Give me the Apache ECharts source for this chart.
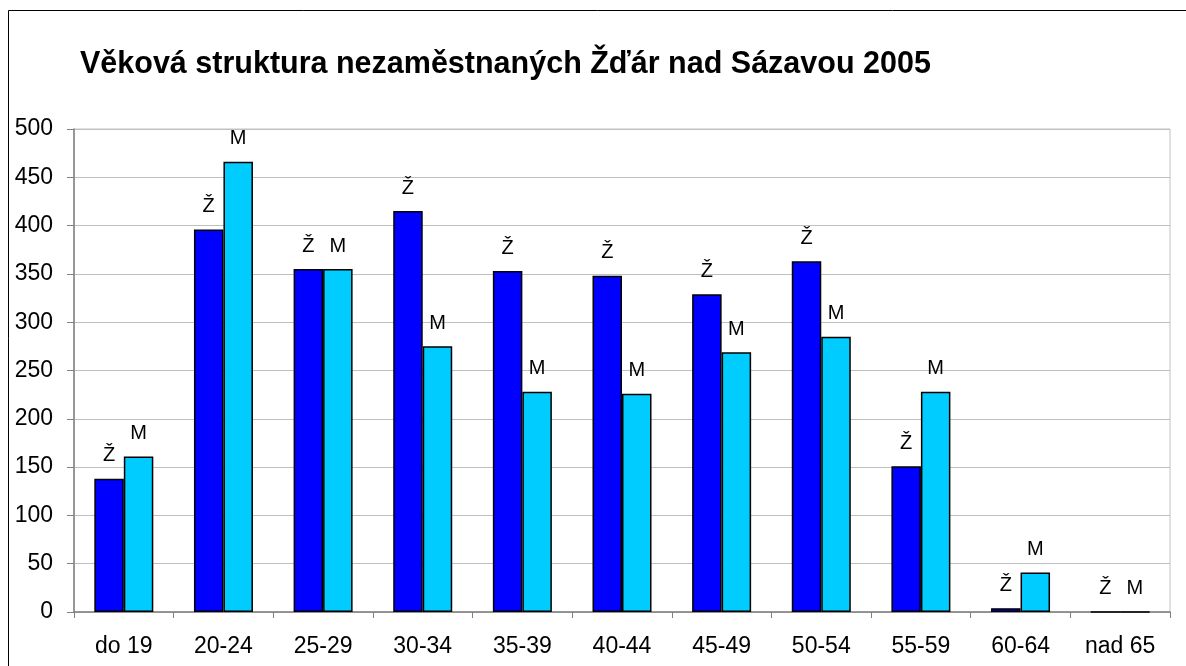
<!DOCTYPE html>
<html>
    <head>
        <meta charset="UTF-8">
        <script src="https://cdn.jsdelivr.net/npm/echarts@6/dist/echarts.min.js"></script>
    </head>
    <body style="margin:0">
        <div id="main" style="width:1186px;height:666px"></div>
        <script type="text/javascript">
            var categories = ['do 19', '20-24', '25-29', '30-34', '35-39', '40-44', '45-49', '50-54', '55-59', '60-64', 'nad 65'];
            var zeny = [138, 396, 355, 415, 353, 348, 329, 363, 151, 4, 0];
            var muzi = [161, 466, 355, 275, 228, 226, 269, 285, 228, 41, 0];
            var yTicks = [0, 50, 100, 150, 200, 250, 300, 350, 400, 450, 500];

            var chartDom = document.getElementById('main');
            var myChart = echarts.init(chartDom);

            var font = 'Liberation Sans, Arial, sans-serif';

            function barLabel(text) {
                return {
                    show: true,
                    position: 'top',
                    distance: 13,
                    formatter: text,
                    color: '#000',
                    fontSize: 20,
                    fontFamily: font
                };
            }

            var option = {
                animation: false,
                backgroundColor: '#fff',
                title: {
                    text: 'Věková struktura nezaměstnaných Žďár nad Sázavou 2005',
                    left: 75,
                    top: 44,
                    textStyle: {
                        fontFamily: font,
                        fontSize: 30.5,
                        fontWeight: 'bold',
                        color: '#000'
                    }
                },
                graphic: [{
                    type: 'rect',
                    shape: { x: 8.5, y: 10.5, width: 1300, height: 800 },
                    style: { fill: 'none', stroke: '#000', lineWidth: 1 },
                    silent: true
                }],
                grid: {
                    left: 74,
                    right: 16,
                    top: 129,
                    bottom: 54,
                    show: true,
                    borderColor: '#c0c0c0',
                    borderWidth: 1
                },
                xAxis: {
                    type: 'category',
                    data: categories,
                    axisLine: { lineStyle: { color: '#808080', width: 1.5 } },
                    axisTick: { show: true, length: 6, lineStyle: { color: '#808080' } },
                    axisLabel: {
                        margin: 23,
                        color: '#000',
                        fontSize: 23,
                        fontFamily: font
                    }
                },
                yAxis: {
                    type: 'value',
                    min: yTicks[0],
                    max: yTicks[yTicks.length - 1],
                    interval: 50,
                    axisLine: { show: true, lineStyle: { color: '#808080', width: 1.5 } },
                    axisTick: { show: true, length: 7, lineStyle: { color: '#808080' } },
                    axisLabel: {
                        margin: 21,
                        color: '#000',
                        fontSize: 23,
                        fontFamily: font
                    },
                    splitLine: { lineStyle: { color: '#c0c0c0', width: 1 } }
                },
                series: [
                    {
                        name: 'Ž',
                        type: 'bar',
                        data: zeny,
                        barWidth: 29.5,
                        barGap: '0%',
                        itemStyle: { color: '#0000ff', borderColor: '#000', borderWidth: 1.5 },
                        label: barLabel('Ž')
                    },
                    {
                        name: 'M',
                        type: 'bar',
                        data: muzi,
                        barWidth: 29.5,
                        barGap: '0%',
                        itemStyle: { color: '#00ccff', borderColor: '#000', borderWidth: 1.5 },
                        label: barLabel('M')
                    }
                ]
            };

            option && myChart.setOption(option);
        </script>
    </body>
</html>
